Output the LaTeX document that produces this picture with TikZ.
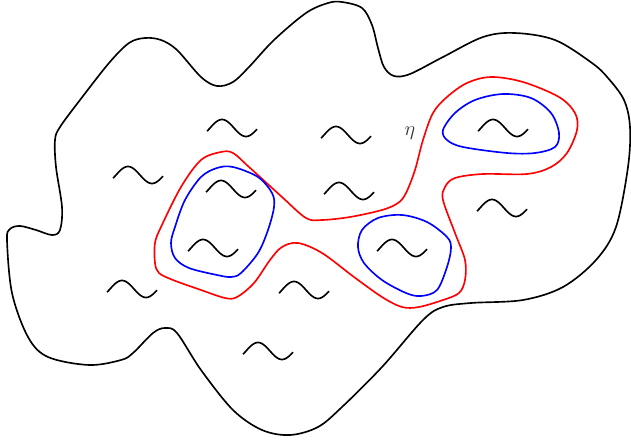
\documentclass[tikz,border=0pt]{standalone}
\usepackage{amsmath,amssymb,xcolor}
\definecolor{loopred}{RGB}{255,0,0}
\definecolor{loopblue}{RGB}{0,0,255}
\usetikzlibrary{positioning}

\tikzset{
  outerline/.style={black, line width=1.4pt},
  redloop/.style={loopred, line width=1.4pt},
  blueloop/.style={loopblue, line width=1.4pt},
  waveline/.style={black, line width=1.4pt},
  wave/.pic={\draw[waveline] plot[domain=-22:352, samples=40, smooth] ({(\x-180)/360*48}, {-8.5*sin(\x)});}
}

\begin{document}
\begin{tikzpicture}[x=0.03cm, y=-0.03cm]
\useasboundingbox (0,0) rectangle (631,442);

% --- Outer region ---
\draw[outerline] plot[smooth cycle, tension=0.55] coordinates {
  (342,2) (362,8) (372,25) (378,48) (384,67) (394,76) (410,74) (443,57) (483,37)
  (515,33) (555,40) (592,63) (608,78) (624,100) (630,127) (628,167) (616,227)
  (596,260) (563,287) (523,300) (471,303) (443,307) (423,320) (382,367) (342,407)
  (318,427) (290,435) (262,430) (233,410) (201,370) (177,333) (165,328) (153,333)
  (133,353) (121,360) (89,365) (48,357) (28,337) (12,293) (7,240) (10,229) (20,226)
  (36,230) (52,235) (60,230) (62,207) (56,167) (55,140) (60,127) (80,100) (109,63)
  (129,43) (145,38) (161,40) (177,50) (201,77) (217,86) (233,82) (249,67) (274,40)
  (306,13) (328,3)};

% --- Red curve eta ---
\draw[redloop] plot[smooth cycle, tension=0.55] coordinates {
  (491,77) (523,82) (559,97) (575,113) (577,130) (567,153) (551,167) (527,174)
  (483,174) (455,178) (445,187) (443,200) (455,233) (465,260) (465,280) (459,293)
  (443,300) (419,307) (402,307) (382,297) (354,277) (322,253) (298,243) (282,247)
  (270,260) (254,283) (237,297) (225,298) (201,290) (173,280) (159,273) (155,263)
  (155,243) (161,227) (181,187) (201,160) (221,152) (233,153) (249,167) (282,197)
  (306,218) (322,220) (350,217) (382,210) (398,203) (406,193) (415,170) (423,140)
  (433,113) (447,97) (467,83)};
\node[font=\LARGE, text=black!80] (eta) at (410,133) {$\eta$};

% --- Blue loops ---
\draw[blueloop] plot[smooth cycle, tension=0.55] coordinates {
  (233,167) (258,177) (272,193) (274,207) (268,230) (258,253) (241,273) (231,277)
  (217,275) (189,268) (175,258) (171,243) (175,227) (185,200) (201,177) (217,168)};
\draw[blueloop] plot[smooth cycle, tension=0.55] coordinates {
  (402,215) (427,222) (447,237) (451,248) (447,267) (437,290) (421,296) (406,293)
  (382,280) (364,263) (358,247) (362,230) (378,218)};
\draw[blueloop] plot[smooth cycle, tension=0.55] coordinates {
  (503,94) (531,98) (551,113) (559,133) (555,147) (535,153) (507,153) (463,147)
  (447,140) (443,130) (455,113) (475,100)};

% --- Waves ---
\foreach \px/\py in {234/128, 348/135, 140/175, 233/189, 351/191, 215/248,
  134/289, 306/290, 270/351, 404/248, 505/128, 504/208}
  \pic at (\px,\py) {wave};

\end{tikzpicture}
\end{document}
